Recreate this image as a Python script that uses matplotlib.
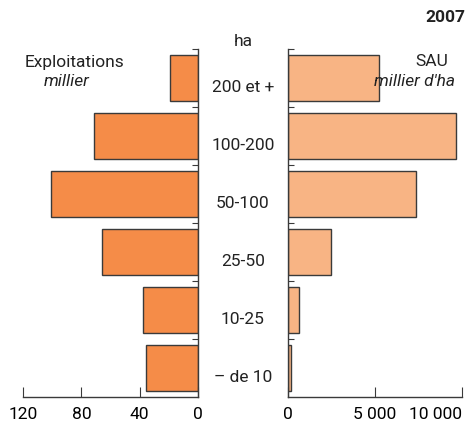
import numpy as np
import matplotlib.pyplot as plt

plt.rcParams['font.family'] = 'Roboto'
plt.rcParams['font.size'] = 12.5

categories = ["200 et +", "100-200", "50-100", "25-50", "10-25", "– de 10"]
exploitations = [19, 71, 101, 66, 38, 35.5]   # millier
sau = [5250, 9650, 7350, 2450, 650, 150]       # millier d'ha

col_left = "#F58C48"
col_right = "#F8B484"
edge = "#3a3a3a"

fig = plt.figure(figsize=(4.71, 4.26), dpi=100)
axL = fig.add_axes([23/471, 1-397/426, 175/471, 348/426])
axR = fig.add_axes([288/471, 1-397/426, 174/471, 348/426])

n = len(categories)
y = np.arange(n)[::-1]

axL.barh(y, exploitations, height=0.8, color=col_left, edgecolor=edge, linewidth=1)
axR.barh(y, sau, height=0.8, color=col_right, edgecolor=edge, linewidth=1)

axL.set_xlim(120, 0)
axR.set_xlim(0, 10000)
for ax in (axL, axR):
    ax.set_ylim(-0.5, n - 0.5)
    ax.set_yticks(np.arange(n) + 0.5)
    ax.set_yticklabels([])
    ax.tick_params(axis='y', direction='in', length=4, color=edge)
    ax.tick_params(axis='x', direction='in', length=7, color=edge, pad=7)
    ax.spines['top'].set_visible(False)
    for s in ax.spines.values():
        s.set_color(edge)
        s.set_linewidth(1)

axL.spines['left'].set_visible(False)
axL.yaxis.tick_right()
axL.set_xticks([120, 80, 40, 0])
axR.spines['right'].set_visible(False)
axR.set_xticks([0, 5000, 10000])
axR.set_xticklabels(["0", "5 000", "10 000"])
axR.get_xticklabels()[-1].set_ha('right')
axR.get_xticklabels()[-1].set_x(10000)

# category labels in the gap between panels
for yi, lab in zip(y, categories):
    axR.text(-0.26, yi - 0.17, lab, transform=axR.get_yaxis_transform(),
             ha='center', va='center', color="#222222")

fig.text(243/471, 1-42/426, "ha", ha='center', va='center', color="#222222")
fig.text(465/471, 1-17/426, "2007", ha='right', va='center', fontweight='bold', color="#222222")
fig.text(75/471, 1-62/426, "Exploitations", ha='center', va='center', color="#222222")
fig.text(67/471, 1-82/426, "millier", ha='center', va='center', style='italic', color="#222222")
fig.text(432/471, 1-62/426, "SAU", ha='center', va='center', color="#222222")
fig.text(414/471, 1-82/426, "millier d'ha", ha='center', va='center', style='italic', color="#222222")

fig.savefig("out.png", dpi=100)
